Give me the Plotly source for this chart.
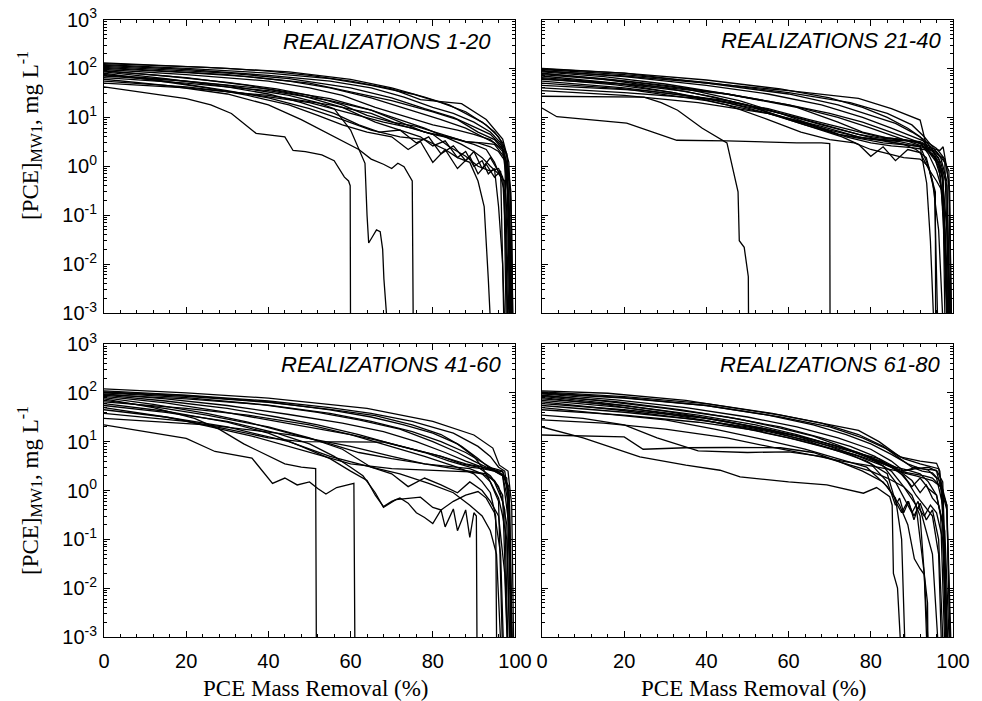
import plotly.graph_objects as go
from plotly.subplots import make_subplots

# ---------------------------------------------------------------------------
# PCE concentration at MW1 versus PCE mass removal, 80 realizations in 4 groups
# ---------------------------------------------------------------------------

# Realizations 1-20
real_1_20_x = [
    [0, 10, 20, 30, 40, 50, 60, 70, 77, 87, 93, 97, 98.5, 99.2, 99.6],
    [0, 20, 40, 55, 65, 75, 82, 88, 93, 96, 98, 99, 99.5],
    [0, 15, 30, 45, 60, 70, 78, 85, 90, 94, 97, 98.5, 99.2],
    [0, 20, 35, 50, 60, 70, 80, 86, 91, 95, 97.5, 98.6, 99.4],
    [0, 20, 40, 50, 58, 66, 74, 80, 86, 90, 94, 97, 98.3, 99],
    [0, 15, 30, 42, 50, 58, 64, 70, 76, 82, 88, 92, 95, 97.5, 98.8],
    [0, 15, 30, 40, 48, 56, 62, 67, 72, 76, 79, 82, 85, 88, 90, 92, 94, 96, 97.3, 98],
    [0, 12, 25, 35, 45, 52, 58, 64, 70, 74, 77, 80, 83, 86, 89, 91, 93, 95, 96.5, 97.5],
    [0, 15, 30, 40, 50, 58, 65, 72, 78, 83, 86, 89, 91, 92.5, 93.5, 94.5],
    [0, 10, 20, 26, 31, 37, 44, 46, 49, 53, 56, 58.5, 59.5, 59.9, 60.0],
    [0, 15, 30, 45, 52, 56, 60, 62, 63.5, 64.0, 64.4, 65.2, 66.3, 67.2, 67.8, 68.1, 68.5, 69.6],
    [0, 15, 30, 40, 48, 54, 58, 62, 65, 68, 70, 71.5, 73, 74.5, 75.0, 75.3],
    [0, 20, 40, 55, 65, 72, 78, 83, 87, 90, 92, 94, 96, 97.5, 98.3, 99],
    [0, 20, 35, 50, 60, 68, 75, 80, 84, 88, 91, 94, 96, 97, 97.8, 98.5],
    [0, 15, 30, 45, 55, 65, 75, 82, 88, 92, 95, 97, 98, 98.8, 99.3],
    [0, 20, 40, 55, 65, 73, 80, 85, 90, 94, 96.5, 98, 98.8, 99.4],
    [0, 20, 35, 48, 58, 66, 72, 77, 80, 83, 86, 88, 90, 92, 93.5, 95, 96, 97, 97.8],
    [0, 20, 40, 55, 65, 72, 78, 84, 88, 91, 94, 96, 97, 98, 99],
    [0, 20, 40, 55, 65, 72, 80, 86, 90, 93, 95, 96.5, 97.5, 98.3],
    [0, 25, 45, 60, 70, 78, 84, 88, 92, 95, 97, 98, 99, 99.6],
]
real_1_20_y = [
    [130, 120, 110, 100, 88, 72, 55, 38, 23, 19, 9, 3.6, 1.2, 0.05, 1e-4],
    [120, 100, 80, 62, 45, 30, 20, 13, 7, 4, 1.8, 0.2, 1e-4],
    [110, 95, 80, 62, 40, 25, 15, 10, 6.5, 4.5, 2.5, 0.5, 1e-4],
    [100, 82, 68, 50, 33, 22, 13, 9, 5, 3.5, 2, 0.1, 1e-4],
    [95, 75, 55, 40, 28, 16, 10, 7, 5.5, 4.5, 3.5, 2.2, 0.3, 1e-4],
    [90, 70, 52, 38, 28, 18, 11, 8, 6.5, 4.5, 3.2, 3, 2.8, 1.5, 1e-4],
    [85, 62, 42, 30, 20, 12, 7, 5, 5.5, 3, 4, 1.8, 2.6, 1.3, 2, 0.9, 1.5, 0.8, 0.5, 1e-4],
    [80, 58, 40, 28, 18, 11, 7, 5, 4, 2.2, 3.2, 1.2, 2.2, 0.9, 1.6, 0.7, 1.1, 0.6, 0.8, 1e-4],
    [75, 55, 35, 25, 15, 9, 5.5, 4, 3.5, 2.2, 1.5, 1.2, 0.5, 0.15, 0.005, 1e-4],
    [42, 32, 24, 18, 12, 4.7, 4.0, 2.1, 2.0, 1.7, 1.3, 0.6, 0.5, 0.4, 1e-4],
    [75, 60, 45, 28, 20, 15, 5.5, 2.2, 1.15, 0.1, 0.027, 0.035, 0.05, 0.046, 0.02, 0.005, 0.002, 1e-4],
    [60, 45, 30, 18, 9, 5, 3.3, 2.2, 1.4, 1.1, 0.9, 1.15, 0.98, 0.6, 0.5, 1e-4],
    [65, 50, 35, 22, 14, 9, 6, 4, 2.8, 2, 1.5, 1, 0.7, 0.5, 0.05, 1e-4],
    [55, 42, 30, 20, 12, 8, 6, 4.5, 2.5, 1.6, 1, 0.8, 0.9, 0.6, 0.03, 1e-4],
    [105, 90, 75, 55, 40, 25, 14, 9, 6, 4, 3, 2, 0.8, 0.02, 1e-4],
    [115, 95, 72, 55, 40, 26, 16, 12, 8, 5, 3, 1.2, 0.05, 1e-4],
    [88, 65, 45, 28, 16, 8, 5.5, 4, 2.6, 3.3, 1.5, 2, 1, 1.3, 0.7, 0.9, 0.15, 0.01, 1e-4],
    [70, 55, 38, 24, 14, 8, 5, 4, 3.2, 3, 2.5, 2, 1.5, 1.2, 1e-4],
    [50, 40, 28, 18, 12, 7, 4.5, 3.5, 2.8, 2.2, 1.2, 0.6, 0.3, 1e-4],
    [125, 105, 85, 60, 40, 26, 18, 12, 8, 5, 3, 1.6, 0.3, 1e-4],
]

# Realizations 21-40
real_21_40_x = [
    [0, 20, 40, 60, 77, 85, 92, 93.6, 96.8, 97.6, 98.4, 99.2, 99.7],
    [0, 20, 40, 60, 75, 84, 90, 93, 95, 97, 98.5, 99.5],
    [0, 20, 40, 55, 68, 78, 85, 90, 94, 96, 98, 99, 99.7],
    [0, 15, 30, 45, 60, 70, 78, 85, 90, 93, 95.5, 97, 98, 99],
    [0, 15, 30, 42, 52, 62, 70, 77, 82, 88, 92, 94, 96, 97.5, 99],
    [0, 12, 24.8, 29, 33, 39, 45, 47.7, 48.0, 49.2, 50.2, 50.3],
    [0, 3.6, 20.6, 32.8, 45, 55, 62, 68, 70.0, 70.1],
    [0, 20, 35, 48, 58, 66, 74, 80, 85, 90, 93, 95, 96.5, 97.5, 98.5, 99.3],
    [0, 18, 32, 45, 55, 63, 70, 76, 80, 84, 88, 92, 94, 95.5, 96.5],
    [0, 20, 35, 50, 60, 68, 73, 77, 80, 83, 86, 89, 92, 94, 96, 97.5, 98.8],
    [0, 25, 45, 62, 72, 78, 84, 88, 92, 94.5, 96.5, 98, 99.2],
    [0, 20, 38, 52, 62, 70, 78, 85, 90, 93, 95.5, 97.5, 99],
    [0, 20, 40, 55, 65, 72, 80, 87, 92, 94, 95.7, 95.8],
    [0, 25, 45, 58, 68, 75, 82, 88, 91, 93.5, 95, 96.5, 98],
    [0, 20, 40, 55, 65, 75, 82, 88, 92, 94, 96, 97.5, 99.5],
    [0, 20, 38, 55, 68, 77, 84, 89, 92, 93.6, 94.5, 95.7],
    [0, 20, 40, 60, 72, 80, 86, 90, 93, 95, 97, 98.5, 99.6],
    [0, 15, 30, 45, 60, 72, 80, 86, 90, 93, 95, 96.5, 97.5, 98.2],
    [0, 20, 40, 58, 70, 78, 84, 89, 92, 94, 96, 97.5, 99, 99.8],
    [0, 18, 32, 45, 55, 64, 72, 78, 83, 87, 91, 94, 96, 98, 99.5],
]
real_21_40_y = [
    [100, 80, 50, 35, 24.5, 15, 8.8, 2.5, 2.1, 2.5, 1.0, 0.3, 1e-4],
    [95, 75, 52, 32, 20, 12, 7, 4, 2.5, 1.5, 0.5, 1e-4],
    [90, 68, 45, 30, 18, 10, 6, 4, 3, 2.3, 1.4, 0.5, 1e-4],
    [85, 68, 48, 30, 18, 12, 8, 5, 3.5, 2.8, 1.5, 0.6, 0.02, 1e-4],
    [80, 60, 40, 26, 16, 10, 6.5, 4.5, 3.8, 3.4, 3, 1.8, 0.8, 0.3, 1e-4],
    [27, 26.5, 26, 20, 14, 6, 3, 0.3, 0.03, 0.022, 0.0055, 1e-4],
    [15.5, 10.3, 7.6, 3.4, 3.3, 3.1, 3.0, 3.0, 2.9, 1e-4],
    [75, 55, 38, 22, 12, 7, 4, 3, 2.6, 2.4, 2.2, 1.8, 1.2, 0.5, 0.05, 1e-4],
    [70, 50, 32, 18, 9, 5, 3.5, 3, 2.2, 1.8, 1.5, 1.4, 1.0, 0.3, 1e-4],
    [65, 48, 34, 18, 9, 5.5, 4, 2.8, 1.6, 2.5, 1.3, 2.2, 1.9, 0.9, 0.5, 0.3, 1e-4],
    [60, 45, 30, 16, 8, 5, 3.8, 3.5, 3.2, 2.5, 1.2, 0.05, 1e-4],
    [55, 40, 26, 15, 8.5, 5.5, 3.8, 3.4, 3.3, 2.7, 1.5, 0.8, 1e-4],
    [50, 38, 22, 12, 7, 4.5, 3.6, 3.2, 2.6, 1.0, 0.3, 1e-4],
    [45, 35, 22, 12, 7, 5, 3.5, 2.8, 2.2, 1.5, 0.5, 0.05, 1e-4],
    [40, 32, 24, 15, 9, 5.5, 4, 3.5, 3, 2, 1.2, 0.6, 1e-4],
    [35, 28, 20, 12, 6.5, 4, 3.2, 2.8, 2.5, 0.45, 0.03, 1e-4],
    [88, 70, 50, 30, 18, 11, 7.5, 5, 3.5, 2.2, 1.2, 0.4, 1e-4],
    [78, 62, 45, 30, 18, 10, 6, 4, 3, 2.5, 2, 1.5, 0.6, 1e-4],
    [98, 80, 58, 38, 25, 16, 10, 6, 4, 2.4, 1.8, 1.5, 0.8, 1e-4],
    [62, 46, 32, 20, 12, 7, 4.5, 3.6, 3, 2.8, 2.6, 2.3, 2, 1.2, 1e-4],
]

# Realizations 41-60
real_41_60_x = [
    [0, 20, 40, 48, 64, 80, 90, 94.6, 96.2, 98.3, 99.2, 99.8],
    [0, 20, 40, 55, 65, 75, 85, 91, 94, 96, 97.5, 98.7, 99.5],
    [0, 20, 38, 52, 62, 72, 80, 86, 90, 93, 95, 97, 98.5, 99.4],
    [0, 15, 30, 45, 58, 68, 76, 83, 88, 92, 95, 97, 98.5, 99.3],
    [0, 15, 30, 42, 52, 62, 70, 78, 84, 89, 92, 95, 97, 98.5, 99.5],
    [0, 15, 28, 40, 50, 60, 68, 75, 82, 87, 91, 94, 96, 97.5, 98.5],
    [0, 12, 25, 35, 45, 55, 62, 70, 78, 85, 89, 92, 94, 96, 97.2],
    [0, 12, 22, 28, 34, 40, 44, 48, 51.5, 51.7],
    [0, 10, 20, 27, 36, 41, 44, 47, 50, 52, 54, 56.6, 60.8, 61.1],
    [0, 15, 30, 40, 48, 55, 60, 64, 66, 68, 70, 72, 74, 76, 78, 80, 82, 83, 85, 86, 88, 89, 90, 90.6, 90.8],
    [0, 15, 30, 42, 50, 56, 60, 63, 66, 68, 71, 74, 77, 80, 82, 85, 88, 91, 93, 95, 96.5, 97.5],
    [0, 12, 25, 40, 50, 58, 65, 70, 74, 78, 82, 86, 89, 92, 94, 96, 97.5, 98.5],
    [0, 20, 35, 50, 60, 70, 78, 85, 90, 92, 94, 95.3, 95.6],
    [0, 20, 40, 55, 65, 73, 80, 86, 90, 92, 94, 96, 97, 98, 99],
    [0, 15, 30, 40, 48, 58, 68, 75, 82, 88, 92, 95, 97, 98.5, 99.2],
    [0, 20, 36, 50, 60, 70, 78, 84, 89, 92, 95, 97, 98.5],
    [0, 15, 30, 45, 55, 65, 72, 79, 85, 89, 92, 94, 95.5, 97],
    [0, 20, 40, 55, 65, 75, 82, 88, 92, 95, 97, 98.5, 99.5],
    [0, 20, 40, 55, 66, 75, 82, 87, 91, 94, 96, 98, 99.4],
    [0, 25, 45, 60, 70, 78, 85, 90, 93, 95, 97, 98, 99],
]
real_41_60_y = [
    [120, 100, 78, 66, 48, 26, 13.7, 7.4, 3.3, 2.5, 0.5, 1e-4],
    [110, 90, 68, 50, 38, 26, 15, 8, 5, 3, 2.5, 0.5, 1e-4],
    [100, 80, 58, 40, 28, 18, 10, 6, 4, 3, 2.8, 2.5, 0.8, 1e-4],
    [95, 75, 55, 36, 24, 16, 10, 6, 4, 3, 2.6, 2.4, 1, 1e-4],
    [90, 68, 48, 32, 22, 14, 9, 6, 4, 3, 2.8, 2.5, 2, 0.2, 1e-4],
    [85, 62, 42, 28, 20, 14, 10, 7, 5, 3.5, 3, 2, 1.2, 0.4, 1e-4],
    [80, 58, 38, 25, 15, 9, 6, 4.5, 3.5, 3, 2.8, 2.2, 1.5, 0.6, 1e-4],
    [75, 50, 30, 18, 9, 5, 3.5, 3, 2.8, 1e-4],
    [22, 16, 11.7, 6.3, 4.6, 1.4, 1.8, 1.3, 1.5, 1.1, 0.85, 1.15, 1.4, 1e-4],
    [60, 42, 25, 15, 8, 4.5, 2.5, 1.6, 0.8, 0.47, 0.6, 0.7, 0.55, 0.35, 0.28, 0.21, 0.4, 0.18, 0.42, 0.15, 0.4, 0.11, 0.35, 0.3, 1e-4],
    [55, 40, 26, 15, 9, 5, 3, 2, 0.9, 0.45, 0.65, 0.7, 0.73, 0.45, 0.4, 0.6, 0.8, 0.95, 0.7, 0.35, 0.05, 1e-4],
    [70, 52, 35, 20, 12, 7, 3, 2.2, 1.2, 1.8, 1.3, 0.9, 1.5, 1.0, 0.6, 0.3, 0.02, 1e-4],
    [65, 48, 35, 22, 14, 8, 5, 3.2, 2.2, 1.5, 0.9, 0.3, 1e-4],
    [105, 88, 65, 45, 32, 22, 15, 9, 5, 3, 1.5, 0.7, 0.3, 0.1, 1e-4],
    [50, 32, 18, 12, 10, 10, 9.8, 7, 5, 3.5, 3, 2.5, 2, 0.5, 1e-4],
    [38, 26, 13, 6, 3.5, 2.8, 2.6, 2.5, 2.4, 2.2, 1.6, 0.8, 1e-4],
    [45, 32, 20, 10, 5, 3, 2.2, 1.4, 0.9, 0.5, 0.3, 0.15, 0.05, 1e-4],
    [92, 75, 56, 38, 26, 16, 10, 6, 3.8, 2.6, 2.1, 1.2, 1e-4],
    [102, 85, 64, 46, 34, 22, 14, 8, 4.5, 2.8, 2.4, 1.8, 1e-4],
    [30, 22, 14, 8, 5, 3.5, 2.8, 2.4, 2.2, 1.5, 0.6, 0.2, 1e-4],
]

# Realizations 61-80
real_61_80_x = [
    [0, 16, 35, 58, 77, 82, 87.1, 92, 96, 96.8, 97.5, 98.5],
    [0, 20, 40, 58, 70, 78, 84, 88, 92, 95, 96.5, 97.5, 98.8],
    [0, 18, 35, 50, 62, 72, 80, 85, 88, 91, 94, 96, 97.5, 99],
    [0, 15, 30, 45, 58, 68, 75, 81, 85, 88, 90, 92, 94, 96, 97.5, 98.5],
    [0, 15, 30, 45, 55, 65, 73, 79, 84, 86, 87.5, 89, 90.5, 92, 93.5, 95, 96.5, 98],
    [0, 15, 28, 40, 50, 60, 68, 75, 80, 84, 86, 87, 88, 89.2, 90.5, 91.5, 93, 94.5, 96, 97.5, 99],
    [0, 10, 23.8, 35, 43.3, 48.2, 60, 69.3, 78.2, 81.4, 84.6, 85.2, 85.5, 86.5, 87.8],
    [0, 12, 20, 24.6, 35, 45, 58, 66, 72, 78, 83, 86, 87.5, 88.6],
    [0, 10, 20, 28, 38, 50, 60, 68, 74, 80, 84, 88, 91, 93, 94],
    [0, 20, 38, 52, 62, 70, 77, 82, 86, 89, 92, 94, 96, 97, 98.3],
    [0, 20, 38, 52, 64, 72, 79, 84, 88, 91, 93, 95, 97, 98.5, 99.6],
    [0, 18, 35, 50, 62, 70, 77, 83, 86, 88, 90, 91.5, 93, 95, 97],
    [0, 20, 40, 55, 66, 74, 80, 85, 88, 90, 92, 93, 93.8, 94],
    [0, 20, 40, 56, 68, 77, 83, 87, 90, 92.5, 95, 97, 98.5, 99.5],
    [0, 20, 40, 55, 66, 75, 82, 86, 89, 91, 93, 95, 96.5, 97.5],
    [0, 15, 30, 42, 54, 64, 72, 79, 84, 87, 89, 90.6, 92, 93, 94.5],
    [0, 20, 38, 52, 62, 70, 76, 81, 85, 88, 91, 94, 96, 97.5, 98.5],
    [0, 20, 40, 55, 66, 74, 80, 85, 89, 92, 94, 96, 97.5, 99],
    [0, 18, 34, 48, 58, 66, 72, 78, 83, 87, 90, 92, 93.5, 95, 96.5, 98, 99.5],
    [0, 15, 30, 45, 55, 65, 73, 80, 86, 90, 93, 95, 97, 98.5, 99.8],
]
real_61_80_y = [
    [110, 98, 70, 35, 17, 10, 4.9, 4, 3.6, 2.5, 0.3, 1e-4],
    [100, 80, 55, 32, 20, 12, 7, 4.5, 3.5, 3, 2.8, 1, 1e-4],
    [95, 72, 50, 32, 20, 12, 7, 4, 2.5, 3, 2.6, 1.8, 0.5, 1e-4],
    [90, 68, 48, 32, 20, 12, 8, 5, 3, 2, 1.2, 1.8, 1.1, 0.8, 0.2, 1e-4],
    [85, 62, 42, 26, 17, 10, 6, 4, 2.2, 0.6, 0.35, 0.6, 0.3, 0.55, 0.25, 0.4, 0.1, 1e-4],
    [80, 58, 40, 27, 18, 12, 8, 5.5, 3.5, 1.5, 0.5, 0.7, 0.35, 0.6, 0.25, 0.45, 0.3, 0.5, 0.35, 0.1, 1e-4],
    [20, 12, 4.9, 3.3, 2.6, 1.9, 1.5, 1.3, 0.88, 1.15, 0.75, 0.5, 0.02, 0.01, 1e-4],
    [13.7, 13, 12.5, 7, 7.5, 7.6, 7.5, 6, 4, 2.5, 1.5, 0.7, 0.1, 1e-4],
    [35, 30, 22, 12, 6.5, 6, 6.2, 5, 3.5, 2.5, 1.8, 1.2, 0.5, 0.02, 1e-4],
    [75, 55, 35, 22, 14, 9, 6, 4, 3, 2.6, 2.2, 1.5, 0.8, 0.3, 1e-4],
    [70, 50, 32, 20, 12, 8, 5, 3.3, 2.3, 2, 1.8, 1.6, 1.2, 0.4, 1e-4],
    [65, 45, 30, 20, 13, 8, 5, 3.2, 1.5, 0.7, 0.35, 0.6, 0.2, 0.05, 1e-4],
    [60, 45, 30, 18, 11, 7, 4.5, 2.5, 1.2, 0.8, 0.3, 0.02, 0.005, 1e-4],
    [105, 84, 60, 38, 24, 14, 8, 4.5, 3, 2.5, 2.3, 1.5, 0.5, 1e-4],
    [55, 40, 27, 16, 10, 6.5, 4.5, 3, 1.5, 0.8, 0.5, 0.3, 0.05, 1e-4],
    [50, 38, 28, 18, 11, 7, 4.5, 3, 1.2, 0.5, 0.2, 0.04, 0.025, 0.019, 1e-4],
    [45, 35, 25, 17, 11, 7.5, 5.5, 4, 3, 2.5, 2.8, 3, 2.5, 0.8, 1e-4],
    [98, 78, 55, 35, 22, 14, 9, 5.5, 3.5, 2.8, 2.7, 2.6, 1.5, 1e-4],
    [88, 66, 45, 29, 19, 13, 8.5, 5.5, 3.8, 2.5, 1.6, 0.9, 1.3, 0.7, 0.5, 0.15, 1e-4],
    [28, 24, 18, 12, 8, 5.5, 4, 3.2, 2.6, 2.2, 2, 1.8, 1.2, 0.5, 1e-4],
]

panel_titles = ["REALIZATIONS 1-20", "REALIZATIONS 21-40",
                "REALIZATIONS 41-60", "REALIZATIONS 61-80"]
x_title = "PCE Mass Removal (%)"
y_title = "[PCE]<sub>MW1</sub>, mg L<sup>-1</sup>"
y_tick_vals = [1e-3, 1e-2, 1e-1, 1e0, 1e1, 1e2, 1e3]
y_tick_text = ["10<sup>-3</sup>", "10<sup>-2</sup>", "10<sup>-1</sup>", "10<sup>0</sup>",
               "10<sup>1</sup>", "10<sup>2</sup>", "10<sup>3</sup>"]
x_tick_vals = [0, 20, 40, 60, 80, 100]

panels = [
    (1, 1, real_1_20_x, real_1_20_y),
    (1, 2, real_21_40_x, real_21_40_y),
    (2, 1, real_41_60_x, real_41_60_y),
    (2, 2, real_61_80_x, real_61_80_y),
]

W, H = 982, 701
SANS = "Liberation Sans, Arial, Helvetica, sans-serif"
SERIF = "Liberation Serif, Times New Roman, serif"

fig = make_subplots(rows=2, cols=2)

for row, col, xs, ys in panels:
    for cx, cy in zip(xs, ys):
        fig.add_trace(
            go.Scatter(x=cx, y=cy, mode="lines",
                       line=dict(color="black", width=1.3),
                       showlegend=False, hoverinfo="skip"),
            row=row, col=col,
        )

# panel frames in pixels: (left, right, top, bottom)
frames = {
    (1, 1): (104, 515, 19.5, 313),
    (1, 2): (542, 953, 19.5, 313),
    (2, 1): (104, 515, 344, 637),
    (2, 2): (542, 953, 344, 637),
}

minor_y = [k * 10.0 ** e for e in range(-3, 3) for k in range(2, 10)]

for (row, col), (l, r, t, b) in frames.items():
    fig.update_xaxes(
        domain=[l / W, r / W], range=[0, 100], automargin=False,
        tickvals=x_tick_vals, ticks="inside", ticklen=6, tickwidth=1,
        tickcolor="black", showline=True, linecolor="black", linewidth=1,
        mirror="allticks", showgrid=False, zeroline=False,
        minor=dict(ticks="inside", ticklen=3, dtick=4, tickcolor="black", showgrid=False),
        showticklabels=(row == 2),
        tickfont=dict(family=SANS, size=20, color="black"),
        ticklabelstandoff=6,
        row=row, col=col,
    )
    fig.update_yaxes(
        domain=[1 - b / H, 1 - t / H], type="log", range=[-3, 3], automargin=False,
        tickvals=y_tick_vals, ticktext=y_tick_text,
        ticks="inside", ticklen=6, tickwidth=1, tickcolor="black",
        showline=True, linecolor="black", linewidth=1, mirror="allticks",
        showgrid=False, zeroline=False,
        minor=dict(ticks="inside", ticklen=3, tickvals=minor_y,
                   tickcolor="black", showgrid=False),
        showticklabels=(col == 1),
        tickfont=dict(family=SANS, size=20, color="black"),
        ticklabelstandoff=2,
        row=row, col=col,
    )

annotations = []
# panel headings, right aligned inside each frame
heading_pos = [(493, 42), (943, 41), (503, 364), (942, 364)]
for text, (hx, hy) in zip(panel_titles, heading_pos):
    annotations.append(dict(
        text=f"<i>{text}</i>", x=hx / W, y=1 - hy / H, xref="paper", yref="paper",
        xanchor="right", yanchor="middle", showarrow=False,
        font=dict(family=SANS, size=22, color="black"),
    ))
# y-axis titles
for cy in (136, 491):
    annotations.append(dict(
        text=y_title, x=29 / W, y=1 - cy / H, xref="paper", yref="paper",
        xanchor="center", yanchor="middle", textangle=-90, showarrow=False,
        font=dict(family=SERIF, size=23, color="black"),
    ))
# x-axis titles
for cx in (316, 754):
    annotations.append(dict(
        text=x_title, x=cx / W, y=1 - 688 / H, xref="paper", yref="paper",
        xanchor="center", yanchor="middle", showarrow=False,
        font=dict(family=SERIF, size=23, color="black"),
    ))

fig.update_layout(
    template="none",
    width=W, height=H,
    margin=dict(l=0, r=0, t=0, b=0, pad=0),
    paper_bgcolor="white", plot_bgcolor="white",
    annotations=annotations,
    showlegend=False,
)

fig.write_html("out.html")
